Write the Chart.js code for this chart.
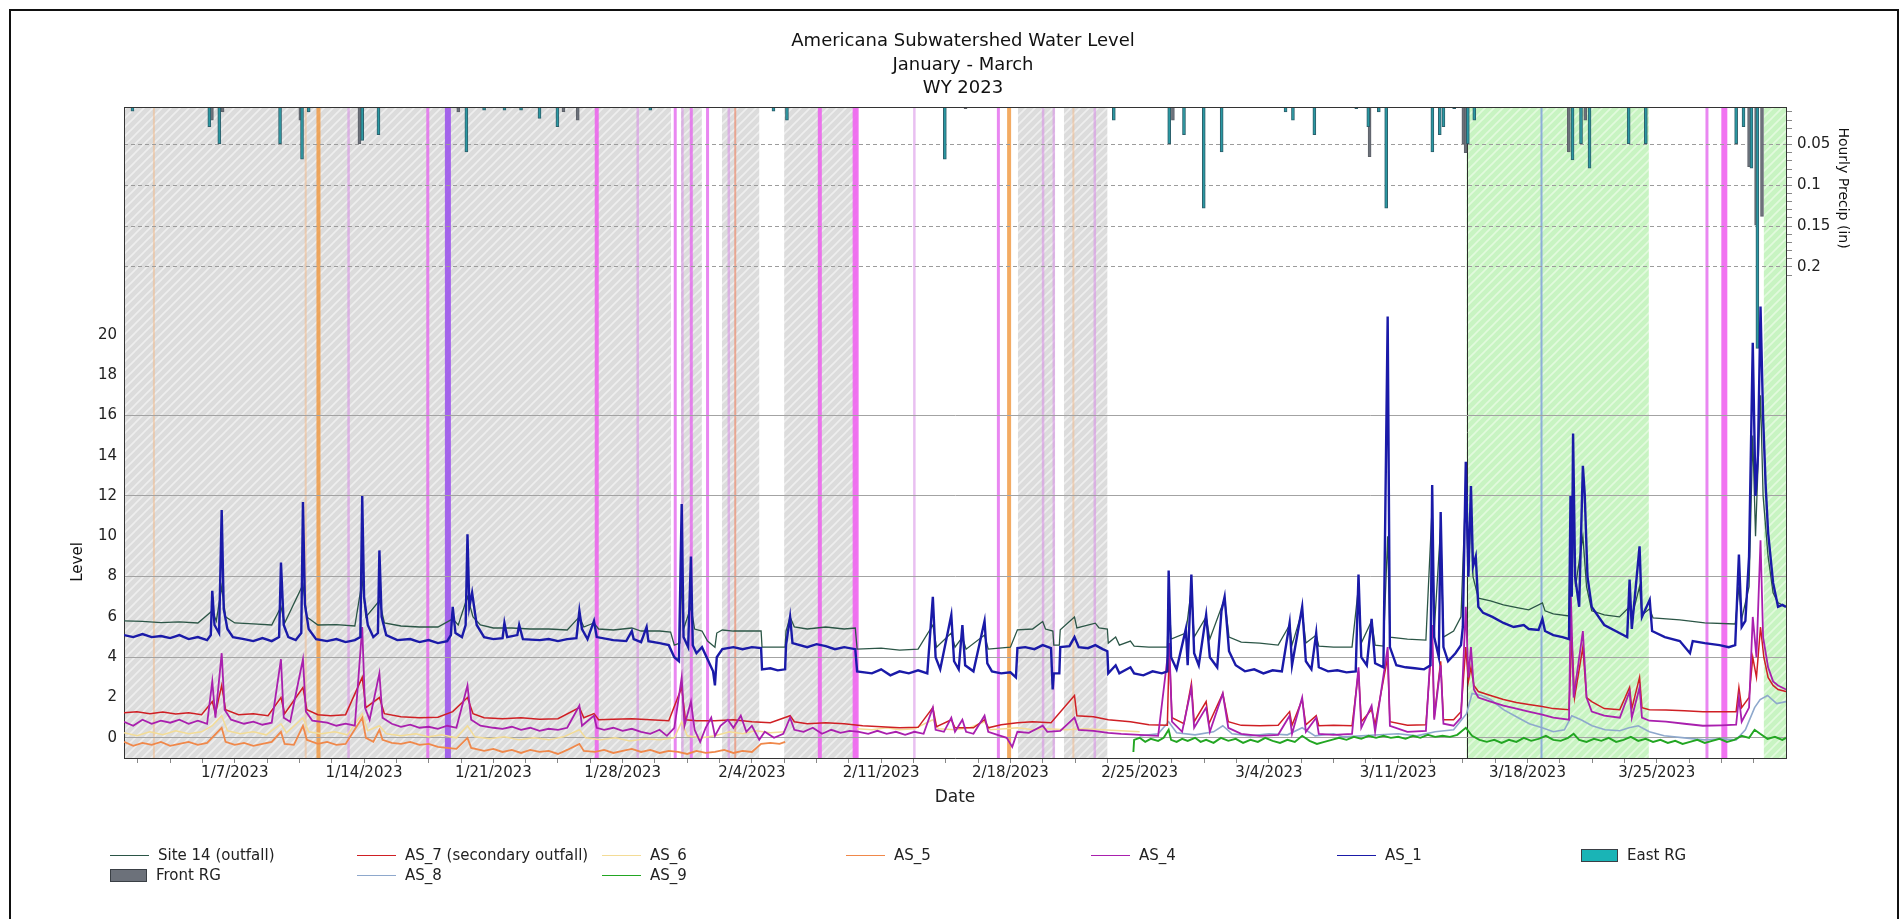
<!DOCTYPE html>
<html>
<head>
<meta charset="utf-8">
<script src="https://cdn.jsdelivr.net/npm/chart.js@4.4.0/dist/chart.umd.min.js"></script>
<style>
html, body { margin: 0; padding: 0; background: #fff; overflow: hidden; }
#chart { position: absolute; left: 0; top: 0; }
#frame { position: absolute; left: 9px; top: 9px; width: 1890px; height: 930px; border: 2px solid #111; box-sizing: border-box; pointer-events: none; }
#legend { position: absolute; left: 0; top: 0; font-family: 'DejaVu Sans', sans-serif; font-size: 15px; color: #222; }
.item { position: absolute; height: 20px; display: flex; align-items: center; white-space: nowrap; }
.item span { margin-left: 9px; }
</style>
</head>
<body>
<canvas id="chart" width="1900" height="919"></canvas>
<div id="frame"></div>
<div id="legend"></div>
<script>
// days are counted from 1/1/2023 00:00
const titleLines = ['Americana Subwatershed Water Level', 'January - March', 'WY 2023'];
const xTickDays = [6, 13, 20, 27, 34, 41, 48, 55, 62, 69, 76, 83];
const xTickLabels = ['1/7/2023', '1/14/2023', '1/21/2023', '1/28/2023', '2/4/2023', '2/11/2023',
  '2/18/2023', '2/25/2023', '3/4/2023', '3/11/2023', '3/18/2023', '3/25/2023'];
const levelTicks = [0, 2, 4, 6, 8, 10, 12, 14, 16, 18, 20];

const site14 = [[0,5.8],[1,5.78],[2,5.72],[3,5.75],[4,5.7],[4.78,6.3],[5.0,5.8],[5.29,7.5],[5.5,6.0],[6,5.7],[7,5.65],[8,5.6],[8.5,6.5],[8.7,5.7],[9.69,7.6],[9.9,6.0],[10.5,5.6],[11.5,5.62],[12.5,5.55],[12.9,7.8],[13.1,6.0],[13.83,6.8],[14.1,5.7],[15,5.55],[16,5.5],[17,5.5],[17.8,5.9],[18.1,5.6],[18.6,7.0],[18.9,6.0],[19.3,5.6],[20,5.45],[21,5.45],[22,5.4],[23,5.4],[24,5.35],[24.66,6.0],[24.9,5.5],[25.45,5.7],[25.7,5.4],[26.5,5.35],[27.5,5.45],[28,5.3],[29,5.3],[29.6,5.25],[29.8,4.6],[30.1,4.7],[30.2,8.0],[30.3,5.4],[30.7,6.5],[30.9,5.4],[31.3,5.3],[31.6,4.8],[32,4.5],[32.1,5.2],[32.4,5.35],[33,5.3],[34,5.3],[34.5,5.3],[34.55,4.5],[35.8,4.5],[35.85,5.3],[36.07,6.0],[36.3,5.5],[37,5.4],[38,5.5],[39,5.4],[39.6,5.45],[39.7,4.4],[41,4.45],[42,4.35],[43,4.4],[43.8,5.6],[44,4.5],[44.8,5.2],[45,4.5],[45.4,5.0],[45.6,4.4],[46.6,5.1],[46.8,4.4],[48,4.5],[48.38,5.36],[49.2,5.4],[49.75,5.77],[49.9,5.4],[50.3,5.3],[50.35,4.6],[50.65,4.6],[50.7,5.36],[51.47,6.0],[51.6,5.45],[52.6,5.69],[52.8,5.45],[53.25,5.4],[53.3,4.7],[53.7,5.0],[53.9,4.6],[54.5,4.8],[54.7,4.55],[55.5,4.5],[56.5,4.5],[56.57,7.5],[56.7,4.9],[57.5,5.2],[57.8,7.4],[57.95,5.0],[58.6,6.0],[58.8,4.9],[59.6,6.9],[59.84,5.0],[60.5,4.75],[61.5,4.7],[62.5,4.6],[63.12,5.6],[63.25,4.6],[63.8,6.3],[64,4.7],[64.56,5.1],[64.7,4.55],[65.5,4.5],[66.5,4.5],[66.85,7.5],[67.0,4.7],[67.56,5.8],[67.75,4.6],[68.2,4.55],[68.43,10.0],[68.55,5.0],[69.5,4.9],[70.5,4.85],[70.84,11.5],[70.95,5.3],[71.3,10.5],[71.45,5.0],[72.0,5.3],[72.4,6.0],[72.66,12.5],[72.8,8.0],[72.94,11.5],[73.05,8.0],[73.34,6.93],[74.0,6.8],[74.7,6.6],[75.5,6.45],[76.07,6.35],[76.81,6.7],[76.95,6.3],[77.4,6.15],[78.25,6.05],[78.33,10.5],[78.47,11.0],[78.6,7.5],[79.0,10.0],[79.2,7.5],[79.48,6.3],[80.16,6.1],[80.98,6.0],[81.53,6.5],[81.65,6.0],[82.07,7.5],[82.2,6.1],[82.62,6.4],[82.8,5.95],[84.25,5.85],[85.6,5.7],[87.25,5.65],[87.45,7.5],[87.6,5.9],[88.0,7.5],[88.2,15.0],[88.35,10.0],[88.62,17.0],[88.76,12.0],[89.03,9.0],[89.3,7.2],[89.57,6.7],[90,6.5]];

const as7 = [[0,1.25],[0.7,1.3],[1.4,1.2],[2.1,1.28],[2.8,1.18],[3.5,1.25],[4.2,1.15],[4.78,1.8],[4.95,1.2],[5.29,2.6],[5.5,1.4],[6.2,1.15],[7,1.2],[7.8,1.1],[8.5,2.0],[8.7,1.2],[9.69,2.5],[9.9,1.4],[10.5,1.15],[11.2,1.1],[12,1.15],[12.9,3.0],[13.1,1.5],[13.83,2.0],[14.1,1.2],[15,1.05],[16,1.0],[17,1.02],[17.8,1.3],[18.6,2.0],[18.9,1.2],[19.5,1.0],[20.5,0.95],[21.5,1.0],[22.5,0.92],[23.5,0.95],[24.66,1.5],[24.9,1.0],[25.45,1.2],[25.7,0.9],[26.5,0.92],[27.5,0.95],[28.5,0.9],[29.5,0.85],[30.2,2.5],[30.4,0.9],[31,0.85],[32,0.85],[33,0.9],[34,0.8],[35,0.75],[36.07,1.1],[36.3,0.8],[37,0.7],[38,0.75],[39,0.7],[40,0.6],[41,0.55],[42,0.5],[43,0.52],[43.8,1.5],[44,0.55],[44.8,0.9],[45,0.5],[46,0.5],[46.6,0.9],[46.8,0.5],[47.5,0.65],[48.38,0.75],[49.2,0.8],[50.2,0.75],[51.47,2.1],[51.6,1.1],[52.5,1.05],[53.3,0.9],[54.5,0.8],[55.5,0.65],[56.5,0.62],[56.6,4.5],[56.75,1.0],[57.4,0.7],[57.8,2.7],[57.95,0.8],[58.6,1.8],[58.75,0.7],[59.5,2.2],[59.8,0.8],[60.5,0.62],[61.5,0.6],[62.5,0.62],[63.12,1.3],[63.25,0.62],[63.8,1.9],[64,0.65],[64.56,1.1],[64.7,0.6],[65.5,0.62],[66.5,0.6],[66.85,3.3],[67,0.8],[67.56,1.4],[67.75,0.65],[68.43,4.0],[68.55,0.8],[69.5,0.62],[70.5,0.65],[70.84,5.0],[70.95,1.0],[71.3,3.8],[71.45,0.9],[72,0.9],[72.4,1.3],[72.66,4.5],[72.8,2.8],[72.94,3.5],[73.1,2.6],[73.34,2.3],[74,2.1],[74.7,1.9],[75.4,1.75],[76.07,1.65],[76.8,1.55],[77.4,1.45],[78.25,1.4],[78.4,5.0],[78.55,2.0],[79.0,4.5],[79.2,2.0],[79.48,1.8],[80.16,1.45],[81,1.4],[81.53,2.5],[81.65,1.45],[82.07,3.0],[82.2,1.5],[82.6,1.4],[83.5,1.38],[84.5,1.35],[85.5,1.3],[86.5,1.3],[87.3,1.3],[87.45,2.5],[87.6,1.5],[88.0,2.0],[88.2,4.0],[88.4,3.0],[88.62,5.5],[88.8,4.0],[89.03,3.0],[89.3,2.6],[89.57,2.4],[90,2.3]];

const as6 = [[0,0.25],[0.7,0.1],[1.4,0.3],[2.1,0.15],[2.8,0.35],[3.5,0.2],[4.2,0.3],[4.78,0.6],[5.29,1.1],[5.6,0.35],[6.3,0.2],[7,0.3],[7.7,0.15],[8.5,0.7],[8.8,0.25],[9.69,1.0],[10,0.3],[10.7,0.2],[11.4,0.3],[12.1,0.15],[12.9,1.2],[13.2,0.35],[13.83,0.6],[14.2,0.2],[15,0.1],[15.8,0.2],[16.5,0.05],[17.2,0.15],[18,0.0],[18.6,0.6],[19,0.05],[19.8,-0.05],[20.6,0.05],[21.4,-0.1],[22.2,0.0],[23,-0.1],[23.8,0.05],[24.66,0.4],[25,0.0],[25.8,-0.1],[26.6,0.0],[27.4,-0.15],[28.2,-0.05],[29,-0.1],[29.8,0.0],[30.2,0.8],[30.5,0.1],[31.3,0.0],[32,0.1],[32.8,0.3],[33.5,0.2],[34.2,0.35],[35,0.25],[35.8,0.3],[36,null],[39.7,0.45],[40.5,0.4],[41.3,0.5],[42,0.4],[42.8,0.45],[43.8,0.9],[44.1,0.45],[45,0.4],[45.8,0.5],[46.6,0.8],[46.9,0.4],[47.7,0.45],[48.4,0.5],[49.2,0.4],[50,0.45],[51,0.4],[52,0.45],[53,0.4],[54,0.35],[55,0.3]];

const as5 = [[0,-0.2],[0.5,-0.4],[1,-0.25],[1.5,-0.35],[2,-0.2],[2.5,-0.4],[3,-0.3],[3.5,-0.2],[4,-0.35],[4.5,-0.25],[5.29,0.5],[5.5,-0.2],[6,-0.35],[6.5,-0.25],[7,-0.4],[7.5,-0.3],[8,-0.2],[8.5,0.3],[8.7,-0.3],[9.2,-0.35],[9.69,0.6],[9.9,-0.1],[10.5,-0.3],[11,-0.2],[11.5,-0.35],[12,-0.3],[12.9,1.0],[13.1,0.0],[13.5,-0.2],[13.83,0.4],[14,-0.1],[14.5,-0.25],[15,-0.3],[15.5,-0.2],[16,-0.35],[16.5,-0.3],[17,-0.45],[17.5,-0.5],[18,-0.55],[18.6,0.0],[18.8,-0.5],[19.5,-0.65],[20,-0.55],[20.5,-0.7],[21,-0.6],[21.5,-0.75],[22,-0.6],[22.5,-0.7],[23,-0.65],[23.5,-0.8],[24,-0.6],[24.66,-0.3],[24.9,-0.65],[25.5,-0.7],[26,-0.6],[26.5,-0.75],[27,-0.65],[27.5,-0.55],[28,-0.7],[28.5,-0.6],[29,-0.75],[29.5,-0.65],[30,-0.7],[30.5,-0.8],[31,-0.65],[31.5,-0.75],[32,-0.7],[32.5,-0.6],[33,-0.75],[33.5,-0.65],[34,-0.7],[34.5,-0.3],[35,-0.25],[35.5,-0.3],[35.8,-0.2]];

const as4 = [[0,0.8],[0.5,0.6],[1,0.9],[1.5,0.7],[2,0.85],[2.5,0.75],[3,0.9],[3.5,0.7],[4,0.85],[4.5,0.7],[4.78,2.8],[4.95,1.0],[5.29,4.2],[5.45,1.4],[5.8,0.9],[6.5,0.7],[7,0.8],[7.5,0.65],[8,0.75],[8.5,3.9],[8.65,1.0],[9,0.8],[9.69,3.9],[9.85,1.3],[10.2,0.85],[11,0.75],[11.5,0.6],[12,0.7],[12.5,0.6],[12.9,5.5],[13.05,1.5],[13.3,0.9],[13.83,3.2],[14,1.0],[14.5,0.7],[15,0.55],[15.5,0.65],[16,0.5],[16.5,0.55],[17,0.45],[17.5,0.6],[18,0.5],[18.6,2.6],[18.8,0.9],[19.3,0.6],[20,0.5],[20.5,0.45],[21,0.55],[21.5,0.4],[22,0.5],[22.5,0.35],[23,0.45],[23.5,0.4],[24,0.5],[24.66,1.6],[24.8,0.6],[25.45,1.1],[25.6,0.5],[26,0.4],[26.5,0.5],[27,0.35],[27.5,0.45],[28,0.3],[28.5,0.2],[29,0.4],[29.4,0.1],[29.8,0.5],[30.2,3.0],[30.35,0.6],[30.7,1.8],[30.9,0.4],[31.2,-0.2],[31.5,0.5],[31.8,1.0],[32.0,0.1],[32.3,0.6],[32.7,0.9],[33.0,0.5],[33.4,1.1],[33.7,0.3],[34,0.6],[34.4,-0.1],[34.7,0.3],[35.2,0.0],[35.7,0.2],[36.07,1.0],[36.3,0.4],[36.8,0.3],[37.3,0.5],[37.8,0.2],[38.3,0.4],[38.8,0.25],[39.3,0.35],[39.8,0.3],[40.3,0.2],[40.8,0.35],[41.3,0.2],[41.8,0.3],[42.3,0.15],[42.8,0.3],[43.3,0.2],[43.8,1.5],[43.95,0.4],[44.4,0.3],[44.8,1.0],[45,0.3],[45.4,0.9],[45.6,0.3],[46,0.2],[46.6,1.1],[46.8,0.3],[47.3,0.15],[47.8,0.0],[48.1,-0.45],[48.38,0.3],[49,0.25],[49.75,0.6],[50,0.3],[50.7,0.35],[51.47,1.0],[51.7,0.4],[52.5,0.35],[53.3,0.25],[54,0.2],[55,0.15],[56,0.1],[56.6,4.7],[56.75,0.8],[57.3,0.3],[57.8,2.5],[57.95,0.5],[58.6,1.5],[58.8,0.3],[59.5,2.2],[59.8,0.5],[60.5,0.2],[61.5,0.1],[62.5,0.15],[63.12,1.1],[63.25,0.2],[63.8,2.0],[64,0.3],[64.56,1.0],[64.7,0.2],[65.5,0.15],[66.5,0.2],[66.85,3.5],[67,0.5],[67.56,1.6],[67.75,0.3],[68.43,4.5],[68.55,0.6],[69.5,0.3],[70.5,0.35],[70.84,5.6],[70.95,0.9],[71.3,3.6],[71.45,0.7],[72,0.6],[72.4,1.0],[72.66,6.5],[72.8,3.0],[72.94,4.5],[73.1,2.4],[73.34,2.0],[74,1.8],[74.7,1.6],[75.4,1.45],[76.07,1.3],[76.8,1.15],[77.4,1.0],[78.25,0.9],[78.35,7.1],[78.5,2.0],[79.0,5.3],[79.2,2.0],[79.48,1.3],[80.16,1.1],[81,1.0],[81.53,2.3],[81.65,1.0],[82.07,2.5],[82.2,1.0],[82.6,0.85],[83.5,0.8],[84.5,0.7],[85.5,0.6],[86.5,0.62],[87.3,0.65],[87.45,2.0],[87.6,0.8],[88.0,1.5],[88.2,6.0],[88.4,4.0],[88.62,9.8],[88.76,5.0],[89.03,3.5],[89.3,2.8],[89.57,2.6],[90,2.4]];

const as1 = [[0,5.1],[0.5,5.0],[1,5.15],[1.5,5.0],[2,5.05],[2.5,4.95],[3,5.1],[3.5,4.9],[4,5.0],[4.5,4.85],[4.7,5.1],[4.78,7.3],[4.9,5.6],[5.15,5.2],[5.29,11.3],[5.4,6.4],[5.6,5.4],[5.9,5.0],[6.5,4.9],[7,4.8],[7.5,4.95],[8,4.8],[8.4,5.0],[8.5,8.7],[8.65,5.6],[8.9,5.0],[9.3,4.85],[9.6,5.2],[9.69,11.7],[9.8,6.6],[10,5.4],[10.4,4.9],[11,4.8],[11.5,4.9],[12,4.75],[12.5,4.85],[12.8,5.0],[12.9,12.0],[13.0,7.0],[13.2,5.6],[13.5,5.0],[13.75,5.2],[13.83,9.3],[13.95,6.0],[14.2,5.1],[14.8,4.85],[15.5,4.9],[16,4.75],[16.5,4.85],[17,4.7],[17.5,4.8],[17.7,5.1],[17.8,6.5],[17.95,5.2],[18.3,5.0],[18.5,5.6],[18.6,10.1],[18.7,6.5],[18.85,7.2],[19.1,5.6],[19.5,5.0],[20,4.9],[20.5,4.95],[20.6,5.7],[20.75,5.0],[21.3,5.1],[21.4,5.6],[21.6,4.9],[22.5,4.85],[23,4.9],[23.5,4.8],[24,4.9],[24.5,4.95],[24.66,6.3],[24.8,5.4],[25.1,4.9],[25.45,5.8],[25.6,5.0],[26.5,4.85],[27.2,4.8],[27.5,5.3],[27.6,4.9],[28,4.75],[28.3,5.5],[28.4,4.8],[29,4.7],[29.5,4.6],[29.8,4.0],[30.05,3.8],[30.2,11.6],[30.3,5.0],[30.55,4.5],[30.7,9.0],[30.8,4.6],[31.0,4.2],[31.3,4.5],[31.6,3.9],[31.9,3.3],[32.0,2.6],[32.1,4.0],[32.4,4.4],[33,4.5],[33.5,4.4],[34,4.5],[34.5,4.45],[34.55,3.4],[35,3.45],[35.4,3.35],[35.8,3.4],[35.85,4.6],[36.07,6.0],[36.2,4.7],[37,4.5],[37.5,4.65],[38,4.55],[38.5,4.4],[39,4.5],[39.6,4.4],[39.7,3.3],[40.5,3.2],[41,3.4],[41.5,3.1],[42,3.3],[42.5,3.2],[43,3.35],[43.5,3.2],[43.8,7.0],[43.95,4.0],[44.2,3.4],[44.8,6.1],[44.95,3.8],[45.2,3.4],[45.4,5.6],[45.55,3.6],[46,3.3],[46.6,5.8],[46.75,3.7],[47,3.3],[47.5,3.2],[48,3.25],[48.3,3.0],[48.38,4.45],[48.8,4.5],[49.3,4.4],[49.75,4.6],[50.2,4.45],[50.29,2.4],[50.35,3.2],[50.65,3.2],[50.7,4.5],[51.2,4.55],[51.47,5.0],[51.7,4.5],[52.2,4.45],[52.6,4.6],[53,4.4],[53.25,4.3],[53.3,3.2],[53.7,3.6],[53.9,3.2],[54.5,3.5],[54.7,3.2],[55.2,3.1],[55.7,3.3],[56.2,3.2],[56.5,3.3],[56.57,8.3],[56.7,4.0],[57.0,3.4],[57.5,5.4],[57.6,3.6],[57.8,8.1],[57.95,4.2],[58.2,3.6],[58.6,6.1],[58.8,4.0],[59.2,3.5],[59.43,6.3],[59.6,7.0],[59.84,4.3],[60.2,3.6],[60.7,3.3],[61.2,3.4],[61.7,3.2],[62.2,3.35],[62.7,3.3],[63.12,5.7],[63.25,3.6],[63.8,6.5],[64.0,3.8],[64.3,3.4],[64.56,5.2],[64.7,3.5],[65.2,3.3],[65.7,3.35],[66.2,3.25],[66.7,3.3],[66.85,8.1],[67.0,4.0],[67.3,3.6],[67.56,5.9],[67.75,3.7],[68.2,3.5],[68.43,20.9],[68.55,4.5],[68.9,3.6],[69.4,3.5],[69.9,3.45],[70.4,3.4],[70.75,3.6],[70.84,12.55],[70.95,5.0],[71.2,4.0],[71.3,11.2],[71.45,4.5],[71.7,3.8],[72.1,4.2],[72.4,4.6],[72.5,5.5],[72.66,13.7],[72.8,8.0],[72.94,12.5],[73.05,8.5],[73.2,9.0],[73.34,6.5],[73.6,6.2],[74.1,6.0],[74.7,5.7],[75.25,5.5],[75.8,5.6],[76.07,5.4],[76.6,5.35],[76.81,5.9],[76.95,5.3],[77.4,5.1],[77.9,5.0],[78.25,4.9],[78.33,12.0],[78.4,7.0],[78.47,15.1],[78.58,8.0],[78.8,6.5],[79.0,13.5],[79.1,12.1],[79.25,8.0],[79.48,6.5],[80.16,5.6],[80.98,5.2],[81.4,5.0],[81.53,7.85],[81.65,5.4],[82.07,9.5],[82.2,6.0],[82.62,6.85],[82.75,5.3],[83.44,5.0],[84.25,4.8],[84.8,4.2],[84.95,4.8],[85.6,4.7],[86.4,4.6],[86.9,4.5],[87.25,4.6],[87.45,9.1],[87.6,5.5],[87.8,5.8],[88.0,9.0],[88.2,19.6],[88.35,12.0],[88.48,14.0],[88.62,21.4],[88.76,15.9],[88.9,12.5],[89.03,10.2],[89.3,7.7],[89.57,6.5],[89.8,6.6],[90,6.5]];

const as8 = [[55,0.1],[56,0.2],[56.57,0.8],[57,0.25],[58,0.15],[59,0.3],[59.5,0.6],[60,0.2],[61,0.1],[62,0.2],[63,0.15],[63.8,0.5],[64.5,0.1],[65.5,0.2],[66,0.05],[67,0.1],[68,0.15],[69,0.2],[70,0.1],[71,0.3],[72,0.4],[72.7,1.2],[73,2.2],[73.5,2.1],[74,1.9],[74.7,1.4],[75.5,1.0],[76.1,0.7],[76.8,0.5],[77.4,0.3],[78,0.4],[78.4,1.1],[78.9,0.9],[79.5,0.6],[80.2,0.4],[81,0.35],[81.5,0.5],[82,0.6],[82.6,0.3],[83.4,0.1],[84.5,0.0],[85.6,-0.1],[86.5,-0.05],[87.3,-0.1],[87.8,0.4],[88.3,1.5],[88.6,1.9],[89,2.1],[89.5,1.7],[90,1.8]];

const as9 = [[54.66,-0.7],[54.7,-0.1],[55,0.0],[55.3,-0.2],[55.6,-0.05],[56,-0.15],[56.3,0.0],[56.57,0.4],[56.7,-0.1],[57,-0.2],[57.3,-0.05],[57.6,-0.15],[58,0.0],[58.3,-0.2],[58.6,-0.1],[59,-0.25],[59.4,0.0],[59.8,-0.15],[60.2,-0.05],[60.6,-0.25],[61,-0.1],[61.4,-0.2],[61.8,0.0],[62.2,-0.15],[62.6,-0.25],[63,-0.1],[63.4,-0.2],[63.8,0.1],[64.2,-0.15],[64.6,-0.3],[65,-0.2],[65.4,-0.1],[65.8,0.0],[66.2,-0.1],[66.6,0.05],[67,-0.05],[67.4,0.1],[67.8,0.0],[68.2,0.1],[68.6,0.0],[69,0.05],[69.4,-0.05],[69.8,0.1],[70.2,0.0],[70.6,0.15],[71,0.05],[71.4,0.1],[71.8,0.05],[72.2,0.15],[72.66,0.5],[73,0.1],[73.4,-0.1],[73.8,-0.2],[74.2,-0.1],[74.6,-0.25],[75,-0.1],[75.4,-0.2],[75.8,0.0],[76.2,-0.15],[76.6,-0.05],[77,0.1],[77.4,-0.1],[77.8,-0.15],[78.2,0.0],[78.5,0.2],[78.8,-0.1],[79.2,-0.2],[79.6,-0.05],[80,-0.15],[80.4,0.0],[80.8,-0.2],[81.2,-0.1],[81.6,0.05],[82,-0.15],[82.4,-0.05],[82.8,-0.2],[83.2,-0.1],[83.6,-0.25],[84,-0.15],[84.4,-0.3],[84.8,-0.2],[85.2,-0.1],[85.6,-0.25],[86,-0.15],[86.4,-0.05],[86.8,-0.2],[87.2,-0.1],[87.6,0.1],[88,0.0],[88.3,0.4],[88.6,0.2],[89,-0.05],[89.4,0.05],[89.8,-0.1],[90,0.0]];

// hourly precip (in), bars hang from the top
const eastRG = [[0.46,0.009],[4.62,0.028],[5.16,0.049],[8.45,0.049],[9.64,0.068],[10.0,0.01],[12.9,0.045],[13.78,0.038],[18.54,0.059],[19.5,0.008],[20.6,0.008],[21.5,0.008],[22.5,0.018],[23.47,0.028],[28.5,0.008],[35.17,0.009],[35.9,0.02],[44.45,0.068],[53.6,0.02],[56.6,0.049],[57.4,0.038],[58.47,0.128],[59.44,0.059],[62.9,0.01],[63.3,0.02],[64.46,0.038],[66.73,0.006],[67.38,0.028],[67.95,0.01],[68.35,0.128],[70.85,0.059],[71.25,0.038],[71.45,0.028],[72.03,0.006],[72.77,0.049],[73.12,0.02],[78.44,0.069],[78.9,0.049],[79.36,0.079],[79.9,0.005],[81.48,0.049],[81.97,0.005],[82.41,0.049],[87.3,0.049],[87.7,0.028],[88.13,0.079],[88.45,0.3]];
const frontRG = [[4.76,0.02],[5.34,0.01],[9.55,0.02],[12.75,0.049],[18.1,0.01],[23.8,0.01],[24.57,0.02],[45.57,0.006],[56.8,0.02],[67.45,0.065],[72.53,0.049],[72.65,0.06],[78.24,0.059],[79.13,0.02],[88.0,0.077],[88.38,0.149],[88.7,0.138]];

// shaded periods and event markers
const greyRanges = [[0,29.62],[30.16,31.29],[32.38,34.4],[35.75,39.71],[48.41,50.4],[50.9,53.25]];
const greenRanges = [[72.7,82.57],[88.8,90]];
const eventDays = [1.62, 9.84, 10.53, 12.16, 16.45, 17.54, 25.6, 27.82, 29.85, 30.24, 30.72, 31.6, 32.75, 33.1, 37.68, 39.62, 42.8, 47.35, 47.93, 49.77, 50.35, 51.41, 52.57, 76.76, 85.72, 86.66];
const eventKinds = ['peach','peach','orange','lilac','pink','purple','magenta','lilac','pink','lilac','pink','pink','lilac','salmon','magenta','magentaWide','lilac','pink','orange','lilac','lilac','peach','lilac','blue','pink','magentaWide'];
const eventStyle = {
  peach: ['rgba(240,185,140,0.55)', 2],
  orange: ['rgba(240,150,60,0.8)', 4],
  lilac: ['rgba(215,140,230,0.55)', 2.5],
  pink: ['rgba(228,105,238,0.8)', 3],
  purple: ['rgba(155,85,235,0.9)', 6],
  magenta: ['rgba(236,95,236,0.85)', 4],
  magentaWide: ['rgba(240,100,240,0.9)', 6],
  salmon: ['rgba(235,140,110,0.7)', 2],
  blue: ['rgba(130,160,220,0.85)', 2]
};

Chart.defaults.font.family = "'DejaVu Sans', sans-serif";
Chart.defaults.color = '#222';

function pts(arr) {
  return arr.map(p => ({x: p[0], y: p[1]}));
}

function hatch(bg, fg) {
  const c = document.createElement('canvas');
  c.width = 9; c.height = 9;
  const g = c.getContext('2d');
  g.fillStyle = bg;
  g.fillRect(0, 0, 9, 9);
  g.strokeStyle = fg;
  g.lineWidth = 1.6;
  g.beginPath();
  g.moveTo(-1, 10); g.lineTo(10, -1);
  g.moveTo(-5.5, 5.5); g.lineTo(5.5, -5.5);
  g.moveTo(3.5, 14.5); g.lineTo(14.5, 3.5);
  g.stroke();
  return c;
}

const minorTicks = [];
for (let v = 0.75; v < 90; v += 1.75) minorTicks.push(v);
const precipTicks = [];
for (let i = 1; i <= 21; i++) precipTicks.push(i / 100);

function line(label, data, color, width, order) {
  return { type: 'line', label: label, data: pts(data), borderColor: color, backgroundColor: color,
    borderWidth: width, pointRadius: 0, tension: 0, yAxisID: 'y', order: order };
}
function bars(label, data, fill, edge, order) {
  return { type: 'bar', label: label, data: pts(data), backgroundColor: fill, borderColor: edge,
    borderWidth: 1, barThickness: 3, grouped: false, yAxisID: 'y2', order: order };
}

const datasets = [
  line('Site 14 (outfall)', site14, '#2b5546', 1.3, 2),
  line('AS_7 (secondary outfall)', as7, '#cf1f24', 1.5, 4),
  line('AS_6', as6, '#f3dc96', 1.5, 8),
  line('AS_5', as5, '#f0884a', 1.8, 7),
  line('AS_4', as4, '#a91fae', 1.8, 3),
  line('AS_1', as1, '#1a1aa8', 2.4, 1),
  bars('East RG', eastRG, '#2a98a2', '#2d5f6b', 10),
  bars('Front RG', frontRG, '#6c717a', '#5d6169', 11),
  line('AS_8', as8, '#8ea8cc', 1.6, 6),
  line('AS_9', as9, '#22a622', 1.9, 5)
];

const backdrop = {
  id: 'backdrop',
  beforeDraw(chart) {
    const {ctx, chartArea: a, scales: {x}} = chart;
    const grey = ctx.createPattern(hatch('#dcdcdc', '#eeeeee'), 'repeat');
    const green = ctx.createPattern(hatch('#c8f4c2', '#e2fadd'), 'repeat');
    ctx.save();
    ctx.beginPath();
    ctx.rect(a.left, a.top, a.width, a.height);
    ctx.clip();
    greyRanges.forEach(r => {
      const x0 = x.getPixelForValue(r[0]), x1 = x.getPixelForValue(r[1]);
      ctx.fillStyle = grey;
      ctx.fillRect(x0, a.top, x1 - x0, a.height);
    });
    greenRanges.forEach(r => {
      const x0 = x.getPixelForValue(r[0]), x1 = x.getPixelForValue(r[1]);
      ctx.fillStyle = green;
      ctx.fillRect(x0, a.top, x1 - x0, a.height);
    });
    const gx = Math.round(x.getPixelForValue(greenRanges[0][0])) + 0.5;
    ctx.strokeStyle = '#2a2a2a';
    ctx.lineWidth = 1;
    ctx.beginPath(); ctx.moveTo(gx, a.top); ctx.lineTo(gx, a.bottom); ctx.stroke();
    eventDays.forEach((d, i) => {
      const st = eventStyle[eventKinds[i]];
      const px = x.getPixelForValue(d);
      ctx.strokeStyle = st[0];
      ctx.lineWidth = st[1];
      ctx.beginPath(); ctx.moveTo(px, a.top); ctx.lineTo(px, a.bottom); ctx.stroke();
    });
    ctx.restore();
  },
  afterDraw(chart) {
    const {ctx, chartArea: a} = chart;
    ctx.save();
    ctx.strokeStyle = '#333';
    ctx.lineWidth = 1;
    ctx.beginPath(); ctx.moveTo(a.left, a.top + 0.5); ctx.lineTo(a.right, a.top + 0.5); ctx.stroke();
    ctx.fillStyle = '#111';
    ctx.textAlign = 'center';
    ctx.textBaseline = 'middle';
    ctx.font = "18px 'DejaVu Sans'";
    titleLines.forEach((t, i) => ctx.fillText(t, 963, 41.7 + i * 23.3));
    ctx.font = "15px 'DejaVu Sans'";
    ctx.save();
    ctx.translate(78, 562);
    ctx.rotate(-Math.PI / 2);
    ctx.fillText('Level', 0, 0);
    ctx.restore();
    ctx.font = "14px 'DejaVu Sans'";
    ctx.translate(1843, 188);
    ctx.rotate(Math.PI / 2);
    ctx.fillText('Hourly Precip (in)', 0, 0);
    ctx.restore();
  }
};

const chart = new Chart(document.getElementById('chart'), {
  data: { datasets: datasets },
  options: {
    responsive: false,
    animation: false,
    layout: { padding: { top: 107, left: 0, right: 0, bottom: 0 } },
    plugins: { legend: { display: false }, title: { display: false }, tooltip: { enabled: false } },
    scales: {
      x: {
        type: 'linear', min: 0, max: 90, offset: false,
        afterBuildTicks: s => { s.ticks = minorTicks.map(v => ({value: v})); },
        afterFit: s => { s.height = 161; },
        ticks: {
          autoSkip: false, maxRotation: 0, padding: 1, font: { size: 15 }, color: '#222',
          callback: v => { const i = xTickDays.indexOf(v); return i >= 0 ? xTickLabels[i] : ''; }
        },
        grid: { offset: false, drawOnChartArea: false, tickLength: 5, color: '#888', tickColor: '#888' },
        border: { color: '#333' },
        title: { display: true, text: 'Date', font: { size: 17 }, color: '#222', padding: { top: 0, bottom: 111 } }
      },
      y: {
        position: 'left', min: -1, max: 31.3,
        afterBuildTicks: s => { s.ticks = levelTicks.map(v => ({value: v})); },
        afterFit: s => { s.width = 124; },
        ticks: { padding: 7, font: { size: 15 }, color: '#222', callback: v => String(v) },
        grid: {
          drawTicks: false,
          color: c => (c.tick && c.tick.value % 4 === 0 && c.tick.value < 20) ? '#a3a3a3' : 'rgba(0,0,0,0)'
        },
        border: { color: '#333' }
      },
      y2: {
        position: 'right', reverse: true, min: 0.004, max: 0.802,
        afterBuildTicks: s => { s.ticks = precipTicks.map(v => ({value: v})); },
        afterFit: s => { s.width = 114; },
        ticks: {
          padding: 5, font: { size: 15 }, color: '#222',
          callback: v => (Math.round(v * 100) % 5 === 0) ? String(v) : ''
        },
        grid: {
          tickLength: 6, tickColor: '#888',
          color: c => (c.tick && Math.round(c.tick.value * 100) % 5 === 0) ? '#9c9c9c' : 'rgba(0,0,0,0)'
        },
        border: { color: '#333', dash: [4, 3] }
      }
    }
  },
  plugins: [backdrop]
});

// legend laid out in fixed columns like the original
const legendCols = [110, 357, 602, 846, 1091, 1337, 1581];
const legendRows = [855, 875];
const legendBox = document.getElementById('legend');
chart.data.datasets.forEach((ds, i) => {
  const item = document.createElement('div');
  item.className = 'item';
  item.style.left = legendCols[i % 7] + 'px';
  item.style.top = (legendRows[Math.floor(i / 7)] - 10) + 'px';
  const sw = document.createElement('div');
  if (ds.type === 'bar') {
    const fill = ds.label === 'East RG' ? '#1ab4b6' : ds.backgroundColor;
    sw.style.cssText = 'width:37px;height:13px;box-sizing:border-box;border:1px solid #3a3f45;background:' + fill;
  } else {
    sw.style.cssText = 'width:39px;height:0;border-top:1.5px solid ' + ds.borderColor;
  }
  const tx = document.createElement('span');
  tx.textContent = ds.label;
  item.appendChild(sw);
  item.appendChild(tx);
  legendBox.appendChild(item);
});
</script>
</body>
</html>
